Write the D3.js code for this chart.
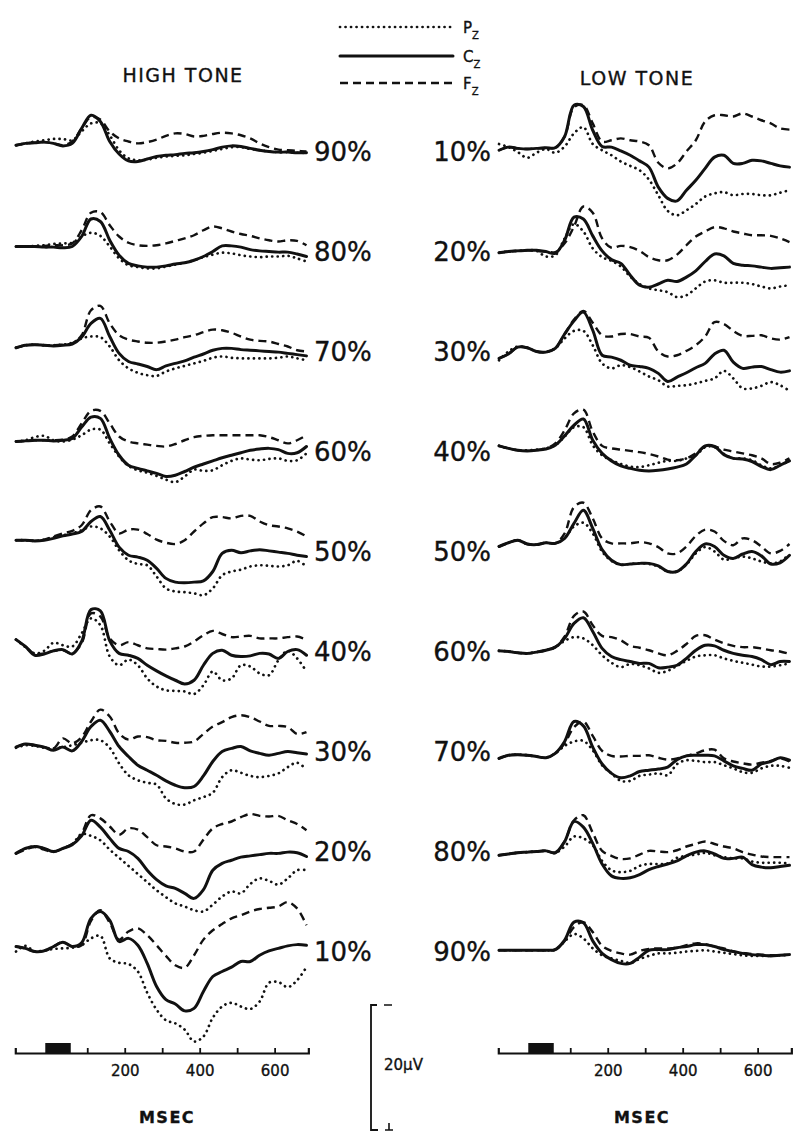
<!DOCTYPE html>
<html>
<head>
<meta charset="utf-8">
<script src="https://cdn.jsdelivr.net/npm/d3@7"></script>
<style>
  body { margin: 0; background: #fff; }
  svg { display: block; }
  text { font-family: "DejaVu Sans", sans-serif; fill: #111; stroke: #111; stroke-width: 0.35px; }
</style>
</head>
<body>
<svg id="chart" width="800" height="1134"></svg>
<script>
// sample times (ms) shared by every trace
const times = [-90,-65,-40,-15,10,35,60,85,110,135,160,185,210,235,260,285,310,335,360,385,410,435,460,485,510,535,560,585,610,635,660,685];
const stimulus = [-12, 56];
const tickMs = [100, 200, 300, 400, 500, 600];

// HIGH TONE (uV, positive drawn downward)
const hi90Pz = [0.2,-0.1,-0.4,-0.6,-0.8,-0.8,-0.6,-2.0,-3.3,-3.3,-1.4,1.0,2.3,2.6,2.5,2.2,2.0,1.9,1.8,1.6,1.4,1.1,0.8,0.5,0.5,0.8,1.0,1.2,1.3,1.3,1.4,1.4];
const hi90Cz = [0.2,-0.1,-0.2,-0.3,-0.1,0.3,-0.1,-2.5,-4.6,-3.6,-0.4,1.6,2.7,2.8,2.4,2.0,1.8,1.7,1.5,1.4,1.2,0.9,0.5,0.3,0.4,0.7,1.0,1.2,1.3,1.3,1.4,1.4];
const hi90Fz = [0.2,-0.1,-0.2,-0.3,-0.1,0.2,-0.4,-2.5,-4.3,-3.9,-2.0,-0.9,-0.4,-0.1,-0.3,-0.7,-1.3,-1.7,-1.6,-1.2,-1.3,-1.6,-1.8,-1.7,-1.4,-0.9,-0.1,0.5,0.9,1.0,1.1,1.2];
const hi80Pz = [0.4,0.4,0.3,0.2,0,-0.1,-0.2,-1.2,-1.8,-1.3,0.4,2.3,3.4,3.7,3.9,3.9,3.6,3.3,3.0,2.6,2.1,1.7,1.4,1.5,1.8,2.0,2.1,2.0,2.0,1.9,2.3,2.8];
const hi80Cz = [0.4,0.4,0.4,0.5,0.5,0.6,0.4,-1.2,-4.0,-3.6,-0.6,1.8,3.1,3.5,3.7,3.7,3.5,3.2,3.0,2.6,2.0,1.2,0.3,0.3,0.5,0.9,1.1,1.2,1.3,1.3,1.6,2.0];
const hi80Fz = [0.4,0.4,0.4,0.3,0.2,0.2,-0.1,-2.2,-5.0,-5.1,-3.0,-1.2,-0.2,0.2,0.3,0.2,-0.1,-0.5,-0.9,-1.4,-2.2,-2.8,-2.5,-2.0,-1.6,-1.3,-0.9,-0.6,-0.4,-0.6,-0.5,0.2];
const hi70Pz = [0.6,0.2,0.1,0.2,0.2,0.1,-0.2,-0.9,-1.2,-1.1,0.4,2.6,3.9,4.6,5.0,5.1,4.4,3.9,3.5,3.1,2.7,2.2,2.0,2.2,2.3,2.3,2.3,2.3,2.2,2.0,2.3,2.6];
const hi70Cz = [0.6,0.2,0.1,0.2,0.3,0.2,0,-1.1,-3.3,-4.1,-1.2,1.5,2.8,3.2,3.6,4.1,3.5,3.1,2.7,2.1,1.6,1.0,0.7,0.7,0.9,1.0,1.1,1.2,1.3,1.5,1.7,1.9];
const hi70Fz = [0.6,0.2,0.1,0.2,0.2,0.1,-0.1,-1.4,-5.4,-6.1,-3.3,-1.4,-0.7,-0.4,-0.2,-0.2,-0.4,-0.7,-1.1,-1.4,-1.9,-2.3,-2.2,-1.8,-1.2,-0.7,-0.5,-0.4,0,0.4,1.0,1.2];
const hi60Pz = [-0.4,-0.6,-1.1,-1.3,-0.6,-0.4,-0.7,-1.4,-2.3,-2.3,-0.1,2.0,3.5,4.2,4.6,5.1,5.7,6.1,5.2,4.1,4.3,4.2,3.4,2.7,2.3,2.5,2.6,2.4,2.3,2.7,2.6,1.5];
const hi60Cz = [-0.4,-0.5,-0.6,-0.6,-0.5,-0.6,-0.9,-2.7,-4.3,-4.1,-0.9,1.8,3.4,3.9,4.3,4.7,5.2,5.0,4.4,3.7,3.2,2.7,2.2,1.8,1.4,1.0,0.8,0.7,0.9,1.5,1.4,0.4];
const hi60Fz = [-0.4,-0.5,-0.6,-0.6,-0.6,-0.7,-1.2,-3.3,-5.3,-5.3,-3.3,-1.2,-0.4,-0.1,0.1,0.3,0.4,0,-0.6,-1.1,-1.3,-1.4,-1.4,-1.4,-1.4,-1.4,-1.4,-1.1,-0.6,-0.1,-0.6,-1.4];
const hi50Pz = [-0.6,-0.6,-0.5,-0.7,-1.1,-1.4,-1.7,-2.2,-2.8,-2.5,-1.2,1.0,2.6,3.2,3.4,5.2,7.1,7.6,7.7,7.9,8.2,7.1,5.0,4.4,4.1,3.6,3.4,3.5,3.6,3.4,2.7,3.6];
const hi50Cz = [-0.6,-0.6,-0.5,-0.6,-0.9,-1.3,-1.6,-2.0,-3.6,-4.4,-2.2,0.5,1.8,2.1,2.6,3.9,5.5,6.1,6.2,6.1,5.9,4.4,1.5,1.0,1.4,1.1,0.9,1.1,1.3,1.5,1.8,2.0];
const hi50Fz = [-0.6,-0.6,-0.5,-0.7,-1.2,-1.7,-2.1,-3.0,-5.4,-6.0,-3.6,-1.7,-2.3,-2.3,-1.6,-0.7,-0.2,0,-0.6,-2.0,-3.3,-4.3,-4.3,-4.1,-4.5,-4.5,-3.6,-3.0,-2.8,-2.5,-2.0,-1.2];
const hi40Pz = [-0.7,0.5,1.5,1.1,-0.2,0.2,0.4,-1.7,-4.1,-3.0,2.0,3.4,2.5,3.4,5.5,6.8,7.4,7.5,7.6,8.0,6.6,4.4,5.8,5.5,3.4,3.6,4.7,5.0,2.6,1.1,2.3,4.4];
const hi40Cz = [-0.7,0.4,1.8,1.6,1.1,0.9,1.6,-0.4,-5.5,-5.3,-0.5,1.5,1.8,2.3,3.4,4.3,5.1,5.8,6.4,5.8,3.4,1.5,1.0,1.8,2.0,1.9,1.5,1.6,2.3,1.2,0.9,1.8];
const hi40Fz = [-0.7,0.4,1.6,1.5,1.1,1.0,1.5,-0.1,-4.9,-4.4,-0.9,0.2,-0.3,0.2,0.7,0.8,0.9,0.7,0.4,-0.4,-1.4,-2.1,-1.6,-1.1,-1.2,-1.3,-0.9,-0.9,-0.9,-1.1,-1.2,-0.7];
const hi30Pz = [0.6,0.2,0.3,0.6,0.7,0.5,0.2,-0.2,-0.6,-0.6,0.6,3.1,5.0,5.8,6.2,6.5,8.7,9.6,9.7,9.0,8.5,7.8,5.3,4.2,4.6,5.1,5.3,5.1,4.7,3.7,3.0,4.1];
const hi30Cz = [0.5,0,0.2,0.5,1.0,0.5,1.1,-0.4,-2.8,-3.8,-2.0,0.4,2.0,3.4,4.2,5.0,5.9,6.6,7.0,6.8,5.1,2.8,1.2,0.7,0.4,1.1,1.5,1.8,1.5,1.2,1.4,1.6];
const hi30Fz = [0.5,0,0.2,0.5,0.7,-0.9,-0.1,-1.1,-3.6,-5.5,-4.4,-1.7,-0.7,-1.2,-1.1,-0.6,-0.5,-0.2,-0.2,-0.4,-1.6,-2.8,-3.5,-4.3,-4.6,-4.3,-3.6,-2.9,-2.9,-2.7,-1.6,-1.9];
const hi20Pz = [1.5,0.7,0.4,0.7,1.2,0.7,0,-1.6,-1.3,-0.6,0.9,2.2,3.5,4.8,6.1,7.4,8.5,9.5,10.0,10.6,10.8,9.7,8.4,7.6,7.9,6.4,5.5,5.9,6.5,5.5,4.2,4.2];
const hi20Cz = [1.5,0.7,0.4,0.7,1.2,0.7,0.1,-1.3,-3.8,-2.7,-0.9,0.7,1.2,2.3,4.2,5.7,6.7,7.1,7.9,8.7,7.3,4.2,3.1,2.6,2.1,1.9,1.7,1.5,1.5,1.3,1.4,2.0];
const hi20Fz = [1.5,0.9,0.5,0.9,1.3,0.7,0,-1.7,-4.6,-4.1,-2.8,-1.5,-2.5,-2.3,-1.1,0.2,0.4,0.7,1.2,1.2,-0.7,-2.5,-3.2,-3.6,-4.3,-4.8,-4.5,-4.4,-4.5,-3.8,-3.2,-2.2];
const hi10Pz = [1.2,0.3,1.2,1.0,0.8,0.7,0.6,0.2,-0.9,-1.3,2.3,3.0,3.2,4.4,7.8,10.5,12.2,12.7,13.7,15.6,14.8,11.8,10.0,9.4,10.0,10.4,9.2,6.2,6.1,6.9,5.8,3.7];
const hi10Cz = [0.4,0.7,1.2,1.1,0.4,-0.3,0.4,-0.2,-4.1,-5.2,-3.8,-0.4,-0.9,0.2,3.1,6.8,8.9,9.6,10.7,10.3,7.6,5.2,4.4,3.7,2.8,2.8,1.8,1.1,0.7,0.3,0.1,0.2];
const hi10Fz = [0.4,0.7,1.2,1.1,0.4,-0.3,0.4,0.2,-3.7,-5.4,-3.4,-0.7,-2.0,-2.5,-1.4,0.2,1.9,3.4,3.8,1.8,-0.7,-2.2,-3.2,-4.1,-4.6,-5.2,-5.6,-5.8,-6.0,-6.7,-5.7,-3.0];

// LOW TONE
const lo10Pz = [0,0.5,1.3,2.2,1.4,0.8,1.4,0.4,-1.7,-2.7,0,1.0,1.8,2.8,3.5,4.2,5.7,8.2,10.7,11.4,10.6,9.6,8.4,7.9,7.7,8.2,8.0,8.0,8.2,8.2,7.8,7.4];
const lo10Cz = [1.0,0.5,0.7,0.8,0.7,0.6,0.6,-1.2,-6.2,-6.0,-2.2,0.4,0.5,1.1,1.8,2.7,3.7,6.9,8.7,9.1,7.4,5.8,3.9,2.1,1.8,3.1,3.1,2.6,2.7,3.1,3.5,3.7];
const lo10Fz = [1.0,0.5,0.7,0.8,0.7,0.6,0.6,-1.2,-5.9,-6.2,-3.3,-0.4,-0.6,-0.9,-0.6,-0.4,0.2,3.0,3.9,3.1,1.2,-0.6,-3.6,-4.6,-4.6,-4.4,-4.9,-4.4,-3.8,-3.3,-2.5,-2.3];
const lo20Pz = [1.4,1.2,1.1,1.0,1.1,2.0,1.8,-0.9,-3.2,-2.0,0.7,2.1,2.7,3.6,5.2,6.4,7.1,7.4,7.7,8.5,8.2,7.1,6.0,5.8,6.2,6.2,6.2,6.4,6.8,7.1,6.8,6.6];
const lo20Cz = [1.4,1.2,1.1,1.0,1.0,1.2,1.5,-0.6,-4.3,-4.0,-1.3,1.1,2.5,3.1,5.0,6.6,6.9,6.4,5.8,6.0,5.3,4.3,2.8,1.6,1.9,3.1,3.4,3.5,3.7,3.9,3.8,3.7];
const lo20Fz = [1.4,1.2,1.1,1.0,1.1,1.2,1.3,-0.1,-2.8,-6.0,-5.0,-0.9,0.6,0.3,0.5,1.1,2.1,2.6,2.6,1.7,0.2,-1.2,-2.0,-2.7,-2.5,-2.0,-1.7,-1.4,-1.4,-1.3,-0.9,-0.3];
const lo30Pz = [2.6,1.2,0.4,0.6,1.2,1.3,0.7,-0.9,-2.1,-2.1,0.2,3.1,3.9,3.4,3.7,4.4,5.2,5.8,6.8,6.7,6.6,6.3,5.9,5.5,4.3,5.5,7.1,7.1,6.7,6.1,6.6,7.5];
const lo30Cz = [2.3,1.6,0.5,0.6,1.2,1.3,0.7,-1.6,-3.7,-5.1,-2.2,1.8,2.1,2.6,3.4,3.6,3.9,4.7,6.0,5.3,4.6,3.8,3.1,1.6,1.0,2.9,3.9,3.7,3.6,4.1,4.5,4.3];
const lo30Fz = [2.3,1.6,0.5,0.6,1.2,1.3,0.7,-1.6,-3.9,-5.3,-3.4,-1.4,-1.2,-1.6,-1.6,-1.2,-1.0,1.2,2.0,1.8,1.1,0.2,-1.2,-3.5,-3.2,-2.1,-1.3,-1.3,-1.4,-0.9,-0.7,-1.1];
const lo40Pz = [0.3,0.7,1.0,1.0,0.9,0.7,0.2,-1.2,-2.7,-2.7,0.2,1.8,2.6,3.2,3.6,3.7,3.4,3.0,2.7,2.7,2.3,1.8,0.5,0.5,1.6,2.3,2.3,2.6,3.4,3.9,3.4,2.7];
const lo40Cz = [0.3,0.7,1.0,1.1,1.0,0.8,0.2,-1.3,-3.0,-4.0,-0.6,1.5,2.7,3.5,3.9,4.2,4.3,4.2,4.0,3.7,3.2,1.8,0.3,0.4,1.7,2.3,2.4,2.8,3.6,4.1,3.4,2.7];
const lo40Fz = [0.3,0.7,1.0,1.1,1.0,0.7,-0.1,-2.2,-4.9,-5.5,-2.0,0.3,0.7,0.9,1.1,1.3,1.6,2.0,2.5,2.6,2.3,1.5,0.4,0.4,0.9,1.2,1.5,1.8,2.3,3.2,3.0,2.3];
const lo50Pz = [0.4,-0.2,-0.6,0,0.1,-0.2,-0.1,-1.0,-2.8,-3.4,-1.7,1.2,2.7,3.3,3.2,3.1,3.2,3.6,4.4,4.4,3.3,1.5,0.5,1.2,2.5,2.3,2.0,2.3,2.8,3.1,2.8,1.6];
const lo50Cz = [0.4,-0.2,-0.6,0,0.1,-0.2,-0.1,-0.9,-3.3,-5.4,-2.5,0.9,2.6,3.3,3.2,3.1,3.1,3.5,4.4,4.4,3.2,1.2,0,0.4,1.8,2.3,1.6,1.2,1.9,3.2,3.0,1.8];
const lo50Fz = [0.4,-0.2,-0.6,0,0.1,-0.2,-0.1,-1.7,-5.9,-6.6,-4.1,-0.9,-0.1,-0.1,-0.1,-0.3,-0.1,0.5,1.5,1.5,0.4,-1.3,-2.3,-2.0,-0.5,0.2,-0.9,-0.6,0.4,1.5,1.1,0];
const lo60Pz = [1.1,1.2,1.4,1.5,1.3,1.0,0.5,-0.5,-1.1,-0.9,0.2,1.8,3.0,3.7,3.2,3.4,3.9,4.6,4.3,3.5,2.7,2.0,1.8,1.8,2.3,2.7,3.0,3.3,3.6,3.6,3.4,3.1];
const lo60Cz = [1.1,1.2,1.4,1.5,1.3,1.0,0.5,-0.9,-3.3,-4.2,-2.0,0.7,2.0,2.5,2.8,3.1,3.1,3.8,3.7,3.4,2.3,1.0,0.2,0.3,1.0,1.5,1.8,2.0,2.5,3.3,2.8,2.8];
const lo60Fz = [1.1,1.2,1.4,1.5,1.3,1.0,0.5,-1.2,-4.5,-5.2,-3.0,-1.3,-1.1,-0.6,0.3,0.6,1.0,1.5,1.8,1.1,0,-1.3,-1.4,-0.7,-0.1,0.3,0.5,0.5,0.7,1.0,1.2,1.6];
const lo70Pz = [2.3,1.8,1.7,1.8,2.0,2.2,1.5,0.3,-0.4,-0.5,1.0,3.4,4.7,5.9,5.9,5.1,4.9,4.7,5.0,3.2,2.6,2.7,2.9,2.9,3.4,3.9,4.5,4.6,3.9,3.5,3.5,3.8];
const lo70Cz = [2.3,1.8,1.7,1.8,2.0,2.2,1.5,-0.4,-3.6,-2.9,0.5,3.2,4.7,5.4,5.1,4.4,4.2,4.0,3.7,2.5,1.9,1.8,1.8,1.9,2.7,3.5,3.9,4.2,3.2,2.8,2.2,2.6];
const lo70Fz = [2.3,1.8,1.7,1.8,2.0,2.2,1.5,-0.1,-2.7,-3.6,-1.3,1.1,1.9,2.0,1.9,1.9,1.8,2.2,2.5,2.3,1.9,1.5,1.0,0.9,2.3,2.8,3.1,3.3,3.0,2.7,2.3,2.8];
const lo80Pz = [1.8,1.6,1.4,1.3,1.2,1.1,1.4,0.4,-1.2,-0.9,0.2,2.7,4.2,4.5,4.3,3.5,3.2,3.2,3.1,2.2,1.9,1.7,1.4,1.8,2.1,2.3,2.3,2.8,3.0,3.0,3.0,3.1];
const lo80Cz = [1.8,1.6,1.4,1.3,1.2,1.1,1.4,-0.4,-3.6,-2.7,-0.1,3.2,5.1,5.5,5.4,4.9,4.1,3.6,3.2,2.7,1.9,1.3,1.1,1.6,2.3,2.3,2.1,3.3,3.7,3.8,3.6,3.4];
const lo80Fz = [1.8,1.6,1.4,1.3,1.2,1.1,1.4,-0.4,-3.8,-4.6,-1.8,1.1,1.9,2.4,2.3,1.7,1.1,1.2,1.3,1.0,0.4,0,-0.4,0,0.4,0.7,1.3,1.7,2.0,2.1,2.1,2.1];
const lo90Pz = [1.0,1.0,1.0,1.0,1.0,1.0,0.9,-0.4,-1.6,-0.9,0.7,1.8,2.3,2.7,3.0,2.4,1.9,1.5,1.5,1.4,1.2,1.1,1.0,1.2,1.4,1.6,1.8,1.9,1.9,1.9,1.8,1.8];
const lo90Cz = [1.0,1.0,1.0,1.0,1.0,1.0,0.9,-0.6,-3.5,-3.4,-0.5,1.5,2.5,3.1,3.1,2.1,1.0,0.9,0.9,0.6,0.4,0.1,0.1,0.4,0.9,1.2,1.5,1.7,1.8,1.9,1.8,1.7];
const lo90Fz = [1.0,1.0,1.0,1.0,1.0,1.0,0.9,-0.5,-2.7,-3.5,-1.9,0.3,1.1,1.5,1.7,1.1,0.8,0.7,0.7,0.6,0.2,-0.1,0,0.4,0.7,1.2,1.4,1.6,1.7,1.8,1.8,1.7];

const highRows = [
  { label: "90%", Pz: hi90Pz, Cz: hi90Cz, Fz: hi90Fz },
  { label: "80%", Pz: hi80Pz, Cz: hi80Cz, Fz: hi80Fz },
  { label: "70%", Pz: hi70Pz, Cz: hi70Cz, Fz: hi70Fz },
  { label: "60%", Pz: hi60Pz, Cz: hi60Cz, Fz: hi60Fz },
  { label: "50%", Pz: hi50Pz, Cz: hi50Cz, Fz: hi50Fz },
  { label: "40%", Pz: hi40Pz, Cz: hi40Cz, Fz: hi40Fz },
  { label: "30%", Pz: hi30Pz, Cz: hi30Cz, Fz: hi30Fz },
  { label: "20%", Pz: hi20Pz, Cz: hi20Cz, Fz: hi20Fz },
  { label: "10%", Pz: hi10Pz, Cz: hi10Cz, Fz: hi10Fz }
];
const lowRows = [
  { label: "10%", Pz: lo10Pz, Cz: lo10Cz, Fz: lo10Fz },
  { label: "20%", Pz: lo20Pz, Cz: lo20Cz, Fz: lo20Fz },
  { label: "30%", Pz: lo30Pz, Cz: lo30Cz, Fz: lo30Fz },
  { label: "40%", Pz: lo40Pz, Cz: lo40Cz, Fz: lo40Fz },
  { label: "50%", Pz: lo50Pz, Cz: lo50Cz, Fz: lo50Fz },
  { label: "60%", Pz: lo60Pz, Cz: lo60Cz, Fz: lo60Fz },
  { label: "70%", Pz: lo70Pz, Cz: lo70Cz, Fz: lo70Fz },
  { label: "80%", Pz: lo80Pz, Cz: lo80Cz, Fz: lo80Fz },
  { label: "90%", Pz: lo90Pz, Cz: lo90Cz, Fz: lo90Fz }
];

const electrodes = [
  { key: "Fz", letter: "F", width: 2.4, dash: "8,5", cap: "butt" },
  { key: "Cz", letter: "C", width: 3, dash: null, cap: "round" },
  { key: "Pz", letter: "P", width: 2.7, dash: "0.1,5.4", cap: "round" }
];

const svg = d3.select("#chart");

const x = d3.scaleLinear().domain([-100, 700]).range([12.3, 312.1]);
const uv = d3.scaleLinear().domain([0, 20]).range([0, 125]);   // 20 uV bar = 125 px
const row = d3.scaleLinear().domain([0, 8]).range([144, 944]);

const line = d3.line()
  .x((d, i) => x(times[i]))
  .y(d => uv(d))
  .curve(d3.curveCatmullRom.alpha(0.5));

const columns = [
  { title: "HIGH TONE", rows: highRows, dx: 0, titleX: 183, titleY: 82, labelX: 314, anchor: "start", msecX: 167 },
  { title: "LOW TONE", rows: lowRows, dx: 483, titleX: 637, titleY: 85, labelX: 491, anchor: "end", msecX: 642 }
];

const axisScale = x.copy().domain([-92, 690]).range([x(-92), x(690)]);

columns.forEach(col => {
  const g = svg.append("g").attr("transform", `translate(${col.dx},0)`);

  col.rows.forEach((r, i) => {
    const rg = g.append("g").attr("transform", `translate(0,${row(i)})`);
    electrodes.forEach(e => {
      rg.append("path")
        .attr("d", line(r[e.key]))
        .attr("fill", "none")
        .attr("stroke", "#111")
        .attr("stroke-width", e.width)
        .attr("stroke-linecap", e.cap)
        .attr("stroke-linejoin", "round")
        .attr("stroke-dasharray", e.dash);
    });
    svg.append("text")
      .attr("x", col.labelX)
      .attr("y", row(i) + 17)
      .attr("text-anchor", col.anchor)
      .attr("font-size", 26)
      .attr("stroke-width", 0.6)
      .text(r.label);
  });

  svg.append("text")
    .attr("x", col.titleX)
    .attr("y", col.titleY)
    .attr("text-anchor", "middle")
    .attr("font-size", 19)
    .attr("letter-spacing", 1.5)
    .attr("stroke-width", 0.5)
    .text(col.title);

  // time axis
  const ax = g.append("g")
    .attr("transform", "translate(0,1053)")
    .call(d3.axisBottom(axisScale)
      .tickValues(tickMs)
      .tickSize(-5)
      .tickSizeOuter(-5)
      .tickPadding(12)
      .tickFormat(d => d % 200 === 0 ? d : ""));
  ax.attr("font-family", null).attr("font-size", null);
  ax.select(".domain").attr("stroke", "#111").attr("stroke-width", 2.2);
  ax.selectAll(".tick line").attr("stroke", "#111").attr("stroke-width", 1.8);
  ax.selectAll(".tick text").attr("font-size", 15).attr("fill", "#111");

  g.append("rect")
    .attr("x", x(stimulus[0]))
    .attr("y", 1043)
    .attr("width", x(stimulus[1]) - x(stimulus[0]))
    .attr("height", 10)
    .attr("fill", "#111");

  svg.append("text")
    .attr("x", col.msecX)
    .attr("y", 1123)
    .attr("text-anchor", "middle")
    .attr("font-size", 16)
    .attr("font-weight", "bold")
    .attr("letter-spacing", 1.5)
    .attr("stroke-width", 0)
    .text("MSEC");
});

// legend
const legendY = [27, 56, 83];
const legendOrder = ["Pz", "Cz", "Fz"];
legendOrder.forEach((k, i) => {
  const e = electrodes.find(d => d.key === k);
  svg.append("line")
    .attr("x1", 340).attr("x2", 453)
    .attr("y1", legendY[i]).attr("y2", legendY[i])
    .attr("stroke", "#111")
    .attr("stroke-width", e.width)
    .attr("stroke-linecap", e.cap)
    .attr("stroke-dasharray", e.dash);
  const t = svg.append("text")
    .attr("x", 463)
    .attr("y", legendY[i] + 6)
    .attr("font-size", 15)
    .attr("stroke-width", 0.5);
  t.append("tspan").text(e.letter);
  t.append("tspan").attr("font-size", 10).attr("dy", 6).text("Z");
});

// 20 uV calibration bar
const bar = svg.append("g").attr("transform", "translate(371,1005)");
const h = uv(20);
bar.append("path")
  .attr("d", `M6,0 H0 V${h} H7`)
  .attr("fill", "none").attr("stroke", "#111").attr("stroke-width", 1.8);
bar.append("path")
  .attr("d", `M13,0 H21 M14,${h} H22 M18,${h} V${h - 7}`)
  .attr("fill", "none").attr("stroke", "#111").attr("stroke-width", 1.6);
bar.append("text")
  .attr("x", 13)
  .attr("y", 65)
  .attr("font-size", 15)
  .text("20\u03bcV");
</script>
</body>
</html>
